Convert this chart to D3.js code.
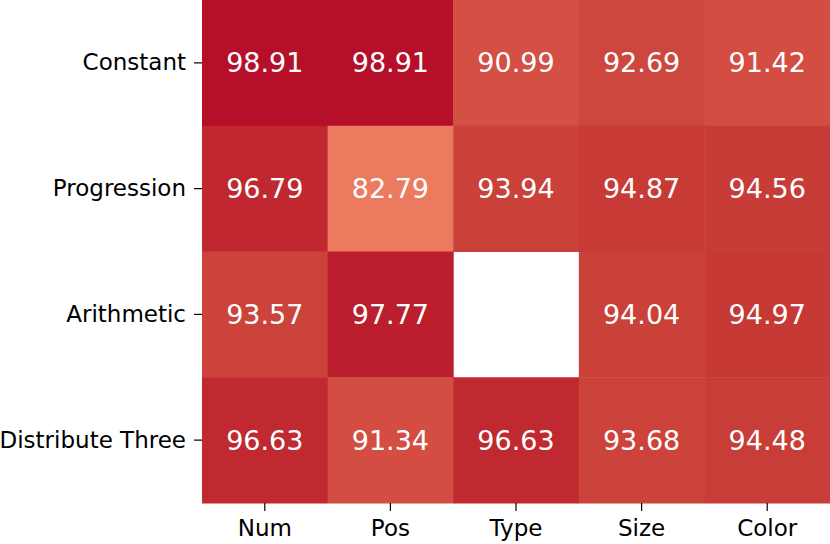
<!DOCTYPE html>
<head>
  <meta charset="utf-8">
  <style>
    body { margin: 0; background: #fff; }
    text { font-family: "DejaVu Sans", sans-serif; }
  </style>
  <script src="https://d3js.org/d3.v7.min.js" charset="utf-8"></script>
</head>
<body>
  <script>
    var w = 830;
    var h = 544;

    var rows = ["Constant", "Progression", "Arithmetic", "Distribute Three"];
    var cols = ["Num", "Pos", "Type", "Size", "Color"];

    // one array per row, null = missing cell
    var constant    = [98.91, 98.91, 90.99, 92.69, 91.42];
    var progression = [96.79, 82.79, 93.94, 94.87, 94.56];
    var arithmetic  = [93.57, 97.77, null,  94.04, 94.97];
    var distThree   = [96.63, 91.34, 96.63, 93.68, 94.48];

    var values = [constant, progression, arithmetic, distThree];

    var cells = [];
    values.forEach(function(r, i) {
      r.forEach(function(v, j) {
        cells.push({ row: rows[i], col: cols[j], v: v });
      });
    });

    var x = d3.scaleBand().domain(cols).range([202, 830]);
    var y = d3.scaleBand().domain(rows).range([0, 503]);

    // red end of coolwarm
    var color = d3.scaleLinear()
      .domain([82.79, 91, 94, 96.7, 98.91])
      .range(["#eb7a5e", "#d44f44", "#ca4139", "#c0282f", "#b50f29"])
      .interpolate(d3.interpolateLab)
      .clamp(true);

    var svg = d3.select("body").append("svg")
      .attr("width", w)
      .attr("height", h);

    svg.selectAll("rect")
      .data(cells.filter(function(d) { return d.v !== null; }))
      .enter()
      .append("rect")
      .attr("x", function(d) { return x(d.col); })
      .attr("y", function(d) { return y(d.row); })
      .attr("width", x.bandwidth() + 0.5)
      .attr("height", y.bandwidth() + 0.5)
      .attr("fill", function(d) { return color(d.v); });

    svg.selectAll("text.val")
      .data(cells.filter(function(d) { return d.v !== null; }))
      .enter()
      .append("text")
      .attr("class", "val")
      .attr("x", function(d) { return x(d.col) + x.bandwidth() / 2; })
      .attr("y", function(d) { return y(d.row) + y.bandwidth() / 2; })
      .attr("text-anchor", "middle")
      .attr("dominant-baseline", "central")
      .attr("font-size", "27px")
      .attr("fill", "white")
      .text(function(d) { return d.v.toFixed(2); });

    // axes
    var xAxis = d3.axisBottom(x).tickSize(8).tickPadding(9);
    var yAxis = d3.axisLeft(y).tickSize(8).tickPadding(8);

    var gx = svg.append("g")
      .attr("transform", "translate(0,503)")
      .call(xAxis);
    var gy = svg.append("g")
      .attr("transform", "translate(202,0)")
      .call(yAxis);

    [gx, gy].forEach(function(g) {
      g.select(".domain").remove();
      g.selectAll(".tick line").attr("stroke", "#000").attr("stroke-width", 1.2);
      g.selectAll(".tick text")
        .attr("font-family", "DejaVu Sans, sans-serif")
        .attr("font-size", "23px")
        .attr("fill", "#000");
    });
  </script>
</body>
